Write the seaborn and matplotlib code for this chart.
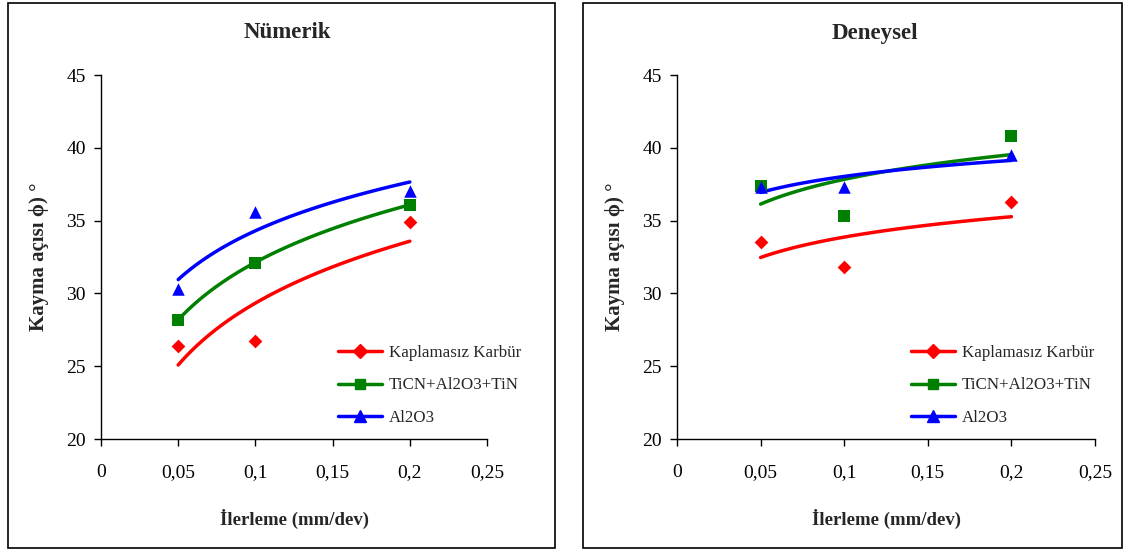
import numpy as np
import pandas as pd
import matplotlib.pyplot as plt
from matplotlib.lines import Line2D
from matplotlib.patches import Rectangle
import seaborn as sns

# feed rate (mm/dev)
feed = [0.05, 0.1, 0.2]
series_names = ["Kaplamasız Karbür", "TiCN+Al2O3+TiN", "Al2O3"]

# shear angle values
numerik = {
    "Kaplamasız Karbür": [26.4, 26.7, 34.9],
    "TiCN+Al2O3+TiN": [28.2, 32.1, 36.1],
    "Al2O3": [30.3, 35.6, 37.0],
}
deneysel = {
    "Kaplamasız Karbür": [33.5, 31.8, 36.3],
    "TiCN+Al2O3+TiN": [37.4, 35.3, 40.8],
    "Al2O3": [37.3, 37.3, 39.5],
}

colors = ["#ff0000", "#008000", "#0000ff"]
markers = ["D", "s", "^"]
msizes = [7, 8, 9]
xticks = [0, 0.05, 0.1, 0.15, 0.2, 0.25]
xticklabels = ["0", "0,05", "0,1", "0,15", "0,2", "0,25"]
yticks = [20, 25, 30, 35, 40, 45]

sns.set_style("white")
plt.rcParams["font.family"] = ["Liberation Serif", "DejaVu Serif"]

fig = plt.figure(figsize=(11.26, 5.51), dpi=100)

# panel frames
fig.patches.append(Rectangle((8 / 1126, 3 / 551), 547 / 1126, 545 / 551,
                             transform=fig.transFigure, fill=False,
                             edgecolor="black", linewidth=1.2))
fig.patches.append(Rectangle((583 / 1126, 3 / 551), 539 / 1126, 545 / 551,
                             transform=fig.transFigure, fill=False,
                             edgecolor="black", linewidth=1.2))

ax1 = fig.add_axes([101 / 1126, 1 - 439 / 551, 386 / 1126, 364 / 551])
ax2 = fig.add_axes([677 / 1126, 1 - 439 / 551, 418 / 1126, 364 / 551])


def draw_panel(ax, data, title, title_x, leg_anchor):
    for name, c, m, ms in zip(series_names, colors, markers, msizes):
        df = pd.DataFrame({"x": feed, "y": data[name]})
        # logarithmic trend line
        sns.regplot(data=df, x="x", y="y", logx=True, ci=None, scatter=False,
                    color=c, line_kws={"linewidth": 2.5}, ax=ax)
        sns.scatterplot(data=df, x="x", y="y", color=c, marker=m,
                        s=ms ** 2, edgecolor=c, linewidth=0, ax=ax, zorder=3)
    ax.set_xlim(0, 0.25)
    ax.set_ylim(20, 45)
    ax.set_xticks(xticks)
    ax.set_xticklabels(xticklabels)
    ax.set_yticks(yticks)
    ax.tick_params(axis="both", direction="out", length=5, width=1,
                   labelsize=14, pad=13, colors="black", left=True, bottom=True)
    ax.tick_params(axis="y", pad=6)
    for s in ["top", "right"]:
        ax.spines[s].set_visible(False)
    for s in ["left", "bottom"]:
        ax.spines[s].set_color("black")
        ax.spines[s].set_linewidth(1)
    ax.set_xlabel("İlerleme (mm/dev)", fontsize=13.5, fontweight="bold", labelpad=20)
    ax.set_ylabel("Kayma açısı ϕ) °", fontsize=15, fontweight="bold", labelpad=12)
    fig.text(title_x, 1 - 33 / 551, title, fontsize=16.5, fontweight="bold",
             ha="center", va="center")
    handles = [Line2D([], [], color=c, marker=m, markersize=ms * 0.95, linewidth=2.5)
               for c, m, ms in zip(colors, markers, msizes)]
    ax.legend(handles, series_names, loc="lower left", bbox_to_anchor=leg_anchor,
              frameon=False, fontsize=12.2, handlelength=2.6, labelspacing=0.95,
              handletextpad=0.4)


draw_panel(ax1, numerik, "Nümerik", 287 / 1126, (0.575, -0.005))
draw_panel(ax2, deneysel, "Deneysel", 875 / 1126, (0.524, -0.005))

fig.savefig("out.png", dpi=100)
